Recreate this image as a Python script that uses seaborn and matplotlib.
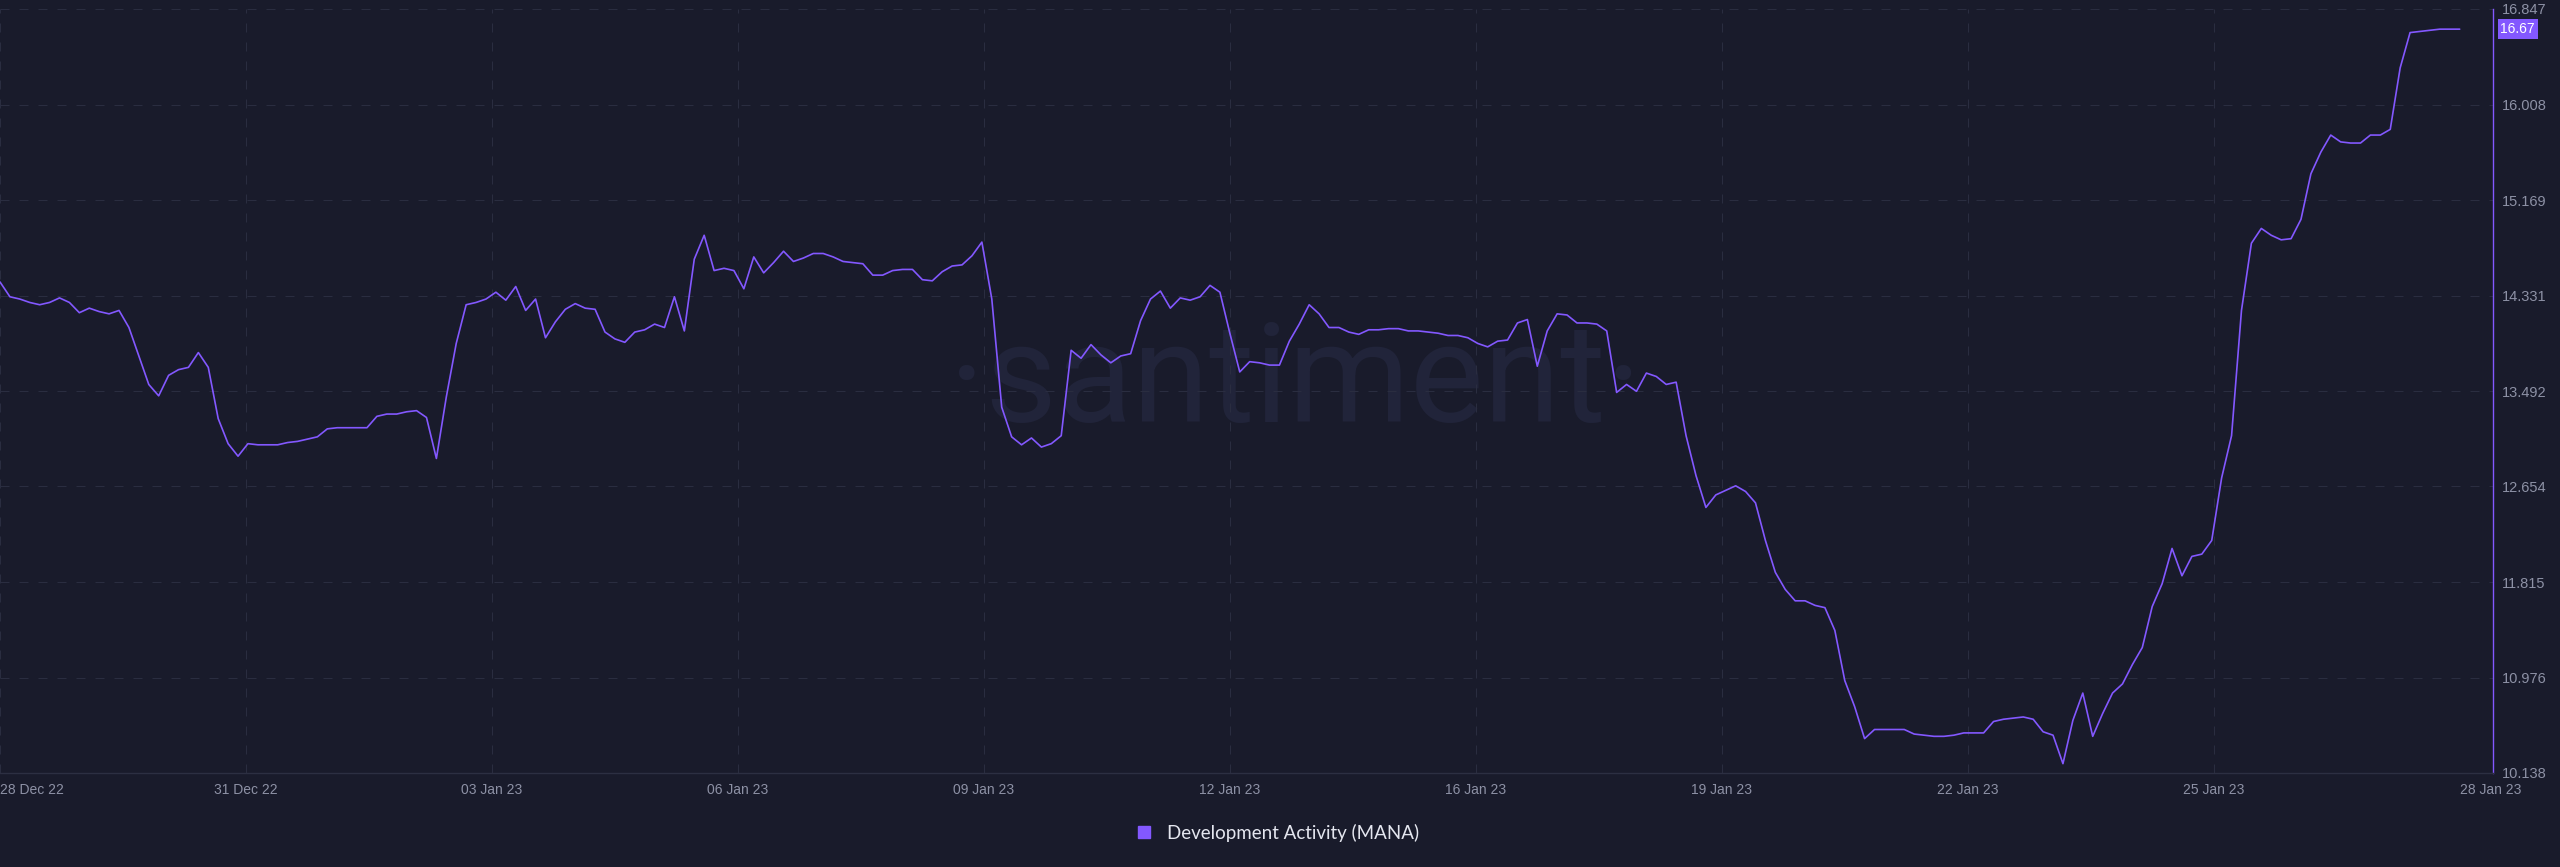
import pandas as pd
import seaborn as sns
import matplotlib.pyplot as plt
import matplotlib.dates as mdates
import matplotlib.transforms as mtransforms
from matplotlib import font_manager
from matplotlib.lines import Line2D

BG = '#191b2b'
PURPLE = '#8358ff'
GRID = '#2a2d40'
TICK = '#8d91a5'

# Development Activity (MANA), one value every 3 hours from 28 Dec 22 to 28 Jan 23
start = pd.Timestamp('2022-12-28')
activity = [
    14.45, 14.32, 14.30, 14.27, 14.25, 14.27, 14.31, 14.27,
    14.18, 14.22, 14.19, 14.17, 14.20, 14.05, 13.80, 13.55,
    13.45, 13.63, 13.68, 13.70, 13.83, 13.70, 13.25, 13.03,
    12.92, 13.03, 13.02, 13.02, 13.02, 13.04, 13.05, 13.07,
    13.09, 13.16, 13.17, 13.17, 13.17, 13.17, 13.27, 13.29,
    13.29, 13.31, 13.32, 13.26, 12.90, 13.44, 13.91, 14.25,
    14.27, 14.30, 14.36, 14.29, 14.41, 14.20, 14.30, 13.96,
    14.10, 14.21, 14.26, 14.22, 14.21, 14.01, 13.95, 13.92,
    14.01, 14.03, 14.08, 14.05, 14.32, 14.02, 14.65, 14.86,
    14.55, 14.57, 14.55, 14.39, 14.67, 14.53, 14.62, 14.72,
    14.63, 14.66, 14.70, 14.70, 14.67, 14.63, 14.62, 14.61,
    14.51, 14.51, 14.55, 14.56, 14.56, 14.47, 14.46, 14.54,
    14.59, 14.60, 14.68, 14.80, 14.30, 13.35, 13.09, 13.02,
    13.08, 13.00, 13.03, 13.10, 13.85, 13.78, 13.90, 13.81,
    13.74, 13.80, 13.82, 14.11, 14.30, 14.37, 14.22, 14.31,
    14.29, 14.32, 14.42, 14.36, 14.00, 13.66, 13.75, 13.74,
    13.72, 13.72, 13.93, 14.08, 14.25, 14.17, 14.05, 14.05,
    14.01, 13.99, 14.03, 14.03, 14.04, 14.04, 14.02, 14.02,
    14.01, 14.00, 13.98, 13.98, 13.96, 13.91, 13.88, 13.93,
    13.94, 14.09, 14.12, 13.71, 14.02, 14.17, 14.16, 14.09,
    14.09, 14.08, 14.02, 13.48, 13.55, 13.49, 13.65, 13.62,
    13.55, 13.57, 13.10, 12.75, 12.47, 12.58, 12.62, 12.66,
    12.61, 12.51, 12.18, 11.90, 11.75, 11.65, 11.65, 11.61,
    11.59, 11.39, 10.95, 10.72, 10.44, 10.52, 10.52, 10.52,
    10.52, 10.48, 10.47, 10.46, 10.46, 10.47, 10.49, 10.49,
    10.49, 10.59, 10.61, 10.62, 10.63, 10.61, 10.50, 10.47,
    10.22, 10.60, 10.84, 10.46, 10.66, 10.84, 10.92, 11.09,
    11.24, 11.60, 11.80, 12.11, 11.87, 12.04, 12.06, 12.18,
    12.73, 13.10, 14.20, 14.79, 14.92, 14.86, 14.82, 14.83,
    15.00, 15.40, 15.59, 15.74, 15.68, 15.67, 15.67, 15.74,
    15.74, 15.79, 16.33, 16.64, 16.65, 16.66, 16.67, 16.67,
    16.67,
]

tick_labels = ['28 Dec 22', '31 Dec 22', '03 Jan 23', '06 Jan 23', '09 Jan 23',
               '12 Jan 23', '16 Jan 23', '19 Jan 23', '22 Jan 23', '25 Jan 23',
               '28 Jan 23']
y_ticks = [10.138, 10.976, 11.815, 12.654, 13.492, 14.331, 15.169, 16.008, 16.847]

df = pd.DataFrame({
    'date': pd.date_range(start, periods=len(activity), freq='3h'),
    'activity': activity,
})

sns.set_theme(style='dark', rc={
    'axes.facecolor': BG,
    'figure.facecolor': BG,
    'savefig.facecolor': BG,
})
plt.rcParams['font.family'] = ['Liberation Sans', 'DejaVu Sans']

# the watermark font is a condensed one, use the narrow Liberation cut if present
installed = {f.name for f in font_manager.fontManager.ttflist}
wm_family = 'Liberation Sans Narrow' if 'Liberation Sans Narrow' in installed else 'Roboto'
wm_size = 120 if wm_family == 'Liberation Sans Narrow' else 100

fig = plt.figure(figsize=(25.6, 8.67), dpi=100)
ax = fig.add_axes([0, 94 / 867, 2493 / 2560, 764 / 867])

# watermark behind the line
ax.text(0.506, 0.513, '\u00b7santiment\u00b7', transform=fig.transFigure, ha='center',
        va='baseline', fontsize=wm_size, color='#21243a', family=wm_family,
        zorder=0.5)

sns.lineplot(data=df, x='date', y='activity', color=PURPLE, linewidth=1.2, ax=ax, zorder=2)

# ticks evenly spaced over the month, like the santiment chart
span = df['date'].iloc[-1] - start
tick_pos = [mdates.date2num(start + span * k / 10) for k in range(len(tick_labels))]
ax.set_xticks(tick_pos)
ax.set_xticklabels(tick_labels)
xl = ax.get_xticklabels()
xl[0].set_ha('left')
xl[-1].set_ha('left')
ax.set_xlim(mdates.date2num(start), mdates.date2num(start + pd.Timedelta(days=31.42)))

ax.set_ylim(y_ticks[0], y_ticks[-1])
ax.set_yticks(y_ticks)
ax.set_yticklabels([f'{v:.3f}' for v in y_ticks])
ax.yaxis.tick_right()
ax.set_xlabel('')
ax.set_ylabel('')
ax.tick_params(axis='y', length=0, pad=6.5, labelsize=10.5, labelcolor=TICK)
ax.tick_params(axis='x', length=0, pad=7, labelsize=10, labelcolor=TICK)

ax.grid(True, color=GRID, linestyle=(0, (9, 10)), linewidth=0.72)
ax.get_xgridlines()[-1].set_visible(False)
for side in ['left', 'top']:
    ax.spines[side].set_visible(False)
ax.spines['right'].set_color(PURPLE)
ax.spines['right'].set_linewidth(1.0)
ax.spines['bottom'].set_color('#2c2f42')
ax.spines['bottom'].set_linewidth(1.0)

# last value tag on the right axis
trans = mtransforms.blended_transform_factory(ax.transAxes, ax.transData)
ax.text(1.003, activity[-1], f'{activity[-1]:.2f}', transform=trans, ha='left', va='center',
        color='white', fontsize=10, clip_on=False,
        bbox=dict(boxstyle='square,pad=0.2', fc=PURPLE, ec='none'))

handle = Line2D([], [], marker='s', color=PURPLE, linestyle='none', markersize=9)
fig.legend(handles=[handle], labels=['Development Activity (MANA)'], loc='center',
           bbox_to_anchor=(0.497, 34 / 867), frameon=False, labelcolor='#e4e6ef',
           handletextpad=0.2, prop={'family': 'Lato', 'size': 13.5})

fig.savefig('out.png', dpi=100, facecolor=BG)
